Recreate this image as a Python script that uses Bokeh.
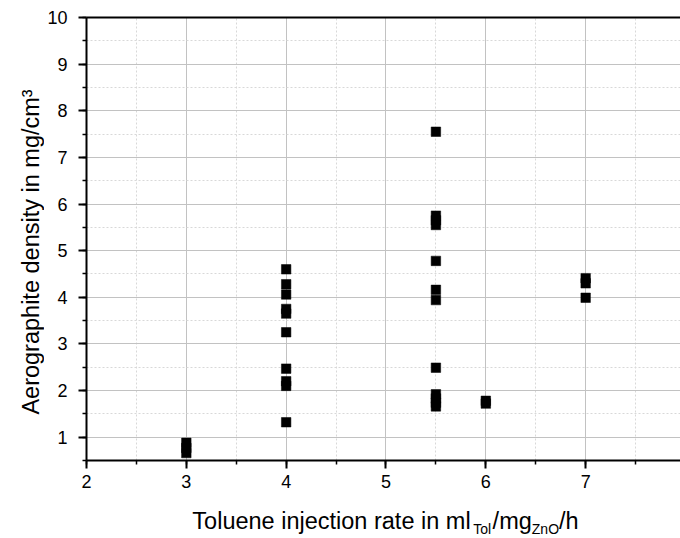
from math import pi
from bokeh.plotting import figure
from bokeh.layouts import column, row
from bokeh.models import Range1d, SingleIntervalTicker, LinearAxis, FixedTicker
from bokeh.core.properties import value
from bokeh.embed import file_html
from bokeh.resources import INLINE

# ---- data ----
rate = [3, 3, 3,
        4, 4, 4, 4, 4, 4, 4, 4, 4, 4,
        5.5, 5.5, 5.5, 5.5, 5.5, 5.5, 5.5, 5.5, 5.5, 5.5, 5.5, 5.5,
        6, 6,
        7, 7, 7]
density = [0.66, 0.77, 0.88,
           4.60, 4.28, 4.06, 3.75, 3.65, 3.25, 2.47, 2.20, 2.10, 1.32,
           7.55, 5.75, 5.65, 5.55, 4.78, 4.16, 3.94, 2.49, 1.92, 1.83, 1.74, 1.66,
           1.78, 1.72,
           4.41, 4.30, 3.99]

x_label_parts = [("Toluene injection rate in ml", False), ("Tol", True),
                 ("/mg", False), ("ZnO", True), ("/h", False)]
y_label = "Aerographite density in mg/cm³"

FONT = "Liberation Sans"
MAIN = 23.5
SUB = 14
BASE_SHIFT = 0.25  # empirical shift of the rendered baseline (em)

# Arial/Liberation Sans advance widths (per 1000 em)
W = {"T": 611, "o": 556, "l": 222, "u": 556, "e": 556, "n": 556, " ": 278,
     "i": 222, "j": 222, "c": 500, "t": 278, "r": 333, "a": 556, "m": 833,
     "/": 278, "g": 556, "h": 556, "Z": 611, "O": 778}


def text_w(s, size):
    return sum(W.get(ch, 556) for ch in s) * size / 1000.0


TOTAL_W, TOTAL_H = 680, 538
YLAB_W = 44
MAIN_H = 495
FRAME_LEFT = 85

p = figure(width=TOTAL_W - YLAB_W, height=MAIN_H,
           x_range=Range1d(2, 2 + (TOTAL_W - FRAME_LEFT) / 100.0),
           y_range=Range1d(0.5, 10),
           output_backend="svg", toolbar_location=None,
           min_border_left=FRAME_LEFT - YLAB_W, min_border_right=0,
           min_border_top=17, min_border_bottom=35)
p.outline_line_color = None
p.background_fill_color = "white"
p.border_fill_color = "white"

xt = SingleIntervalTicker(interval=1, num_minor_ticks=2)
yt = SingleIntervalTicker(interval=1, num_minor_ticks=2)
p.xaxis.ticker = xt
p.yaxis.ticker = yt
p.xgrid.ticker = xt
p.ygrid.ticker = yt

for g in (p.xgrid, p.ygrid):
    g.grid_line_color = "#c2c2c2"
    g.grid_line_width = 1
    g.minor_grid_line_color = "#d8d8d8"
    g.minor_grid_line_width = 1
    g.minor_grid_line_dash = "2 2"

for ax in (p.xaxis, p.yaxis):
    ax.axis_line_width = 2
    ax.axis_line_color = "black"
    ax.major_tick_out = 8
    ax.major_tick_in = 0
    ax.major_tick_line_width = 2
    ax.minor_tick_out = 4
    ax.minor_tick_in = 0
    ax.minor_tick_line_width = 1.5
    ax.major_label_text_font = FONT
    ax.major_label_text_font_size = "18px"
    ax.major_label_text_color = "black"
p.xaxis.major_label_standoff = 6
p.yaxis.major_label_standoff = 11

top = LinearAxis(ticker=FixedTicker(ticks=[], minor_ticks=[]), axis_line_width=2,
                 axis_line_color="black", major_tick_out=0, minor_tick_out=0,
                 major_label_standoff=0)
p.add_layout(top, "above")

p.scatter(x=rate, y=density, marker="square", size=9.5,
          fill_color="black", line_color="black", line_width=0.5)


def blank_fig(w, h):
    f = figure(width=w, height=h, x_range=Range1d(0, w), y_range=Range1d(0, h),
               x_axis_type=None, y_axis_type=None,
               output_backend="svg", toolbar_location=None,
               min_border=0, min_border_left=0, min_border_right=0,
               min_border_top=0, min_border_bottom=0)
    f.grid.visible = False
    f.outline_line_color = None
    f.background_fill_color = "white"
    f.border_fill_color = "white"
    return f


# ---- y axis label (left strip) ----
ylf = blank_fig(YLAB_W, MAIN_H)
ylf.text(x=[36.5 - BASE_SHIFT * MAIN], y=[MAIN_H - 262], text=[y_label], angle=pi / 2,
         text_font=value(FONT), text_font_size=f"{MAIN}px", text_color="black",
         text_align="center", text_baseline="alphabetic")

# ---- x axis label with subscripts (bottom strip) ----
XLAB_H = TOTAL_H - MAIN_H
xlf = blank_fig(TOTAL_W, XLAB_H)
total = sum(text_w(s, SUB if sub else MAIN) for s, sub in x_label_parts)
x0 = 385.0 - total / 2.0
for s, sub in x_label_parts:
    size = SUB if sub else MAIN
    base = (532 if sub else 526) - BASE_SHIFT * size
    xlf.text(x=[x0], y=[TOTAL_H - base], text=[s], text_font=value(FONT),
             text_font_size=f"{size}px", text_color="black",
             text_align="left", text_baseline="alphabetic")
    x0 += text_w(s, size)

lay = column(row(ylf, p, spacing=0), xlf, spacing=0)

open("out.html", "w").write(file_html(lay, INLINE))
